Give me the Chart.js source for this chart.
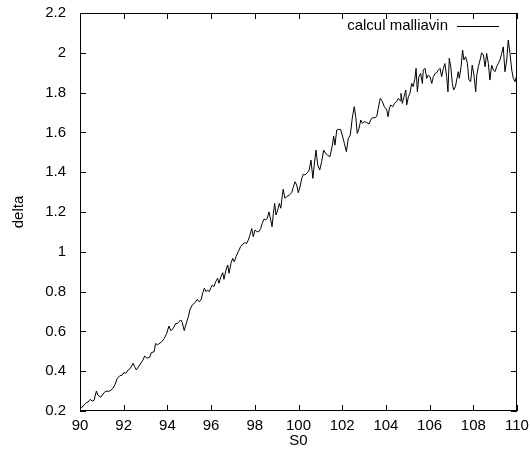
<!DOCTYPE html>
<html>
<head>
<meta charset="utf-8">
<script src="https://cdn.jsdelivr.net/npm/chart.js@4.4.1/dist/chart.umd.min.js"></script>
<style>
    html, body { margin: 0; padding: 0; background: #fff; }
    #wrap { width: 530px; height: 459px; }
</style>
</head>
<body>
<div id="wrap"><canvas id="deltaChart"></canvas></div>
<script>
// S0 values
const s0Values = [
    90.06, 90.18, 90.29, 90.37, 90.47, 90.55, 90.64, 90.75, 90.82, 90.95,
    91.05, 91.16, 91.36, 91.51, 91.59, 91.71, 91.82, 91.94,
    92.01, 92.09, 92.20, 92.30, 92.43, 92.50, 92.58, 92.73, 92.88, 92.96,
    93.07, 93.19, 93.26, 93.39, 93.46, 93.54,
    93.74, 93.86, 93.97, 94.07, 94.16, 94.27, 94.38, 94.47, 94.53, 94.62,
    94.68, 94.77, 94.84, 94.96, 95.03, 95.14, 95.26, 95.37, 95.45, 95.54,
    95.62, 95.69, 95.77, 95.84, 95.92, 96.00, 96.05, 96.13, 96.21, 96.30,
    96.36, 96.45, 96.53, 96.59, 96.68, 96.76, 96.82, 96.91, 96.99, 97.06,
    97.14, 97.24, 97.35, 97.45, 97.55, 97.63, 97.70, 97.78, 97.86, 97.93,
    98.01, 98.09, 98.18, 98.27, 98.34, 98.42, 98.50, 98.57, 98.65, 98.73,
    98.79, 98.85, 98.91, 98.97, 99.05, 99.12, 99.19, 99.26, 99.30, 99.38,
    99.46, 99.58, 99.69, 99.76, 99.84, 99.92, 99.99, 100.07, 100.15, 100.22,
    100.30, 100.40, 100.49,
    100.57, 100.66, 100.72, 100.80, 100.88, 100.97, 101.06, 101.15, 101.24, 101.33,
    101.44, 101.55, 101.61, 101.67, 101.75, 101.82, 101.93, 102.00, 102.10, 102.19,
    102.28, 102.37, 102.46, 102.55, 102.62, 102.69, 102.77, 102.85, 102.92, 103.01,
    103.12, 103.23, 103.30, 103.38, 103.50, 103.58, 103.65, 103.74, 103.84, 103.93,
    104.04, 104.10, 104.16, 104.22, 104.31, 104.40, 104.49, 104.57, 104.65, 104.69,
    104.75, 104.83, 104.91, 104.95, 105.03, 105.10, 105.18, 105.25, 105.33, 105.38,
    105.44, 105.51, 105.59, 105.67, 105.71, 105.79, 105.87, 105.94, 106.02, 106.10,
    106.17, 106.25, 106.33, 106.40, 106.48, 106.55, 106.63, 106.70, 106.78, 106.84,
    106.90, 106.97,
    107.04, 107.10, 107.18, 107.24, 107.31, 107.36, 107.44, 107.51, 107.57, 107.65,
    107.73, 107.80, 107.88, 107.95, 108.03, 108.11, 108.16, 108.23, 108.31, 108.38,
    108.46, 108.54, 108.61, 108.69, 108.76, 108.84, 108.92, 108.99, 109.07, 109.14,
    109.22, 109.30, 109.37, 109.45, 109.53, 109.60, 109.68, 109.76, 109.83, 109.91,
    109.99
];

// delta estimates (malliavin)
const deltaValues = [
    0.214, 0.23, 0.242, 0.245, 0.259, 0.25, 0.252, 0.30, 0.28, 0.269,
    0.285, 0.299, 0.30, 0.314, 0.33, 0.364, 0.377, 0.381,
    0.394, 0.389, 0.406, 0.414, 0.44, 0.423, 0.406, 0.431, 0.456, 0.476,
    0.465, 0.47, 0.493, 0.498, 0.54, 0.532,
    0.548, 0.565, 0.59, 0.627, 0.604, 0.615, 0.64, 0.64, 0.649, 0.657,
    0.644, 0.604, 0.632, 0.674, 0.708, 0.733, 0.744, 0.761, 0.749, 0.758,
    0.794, 0.817, 0.80, 0.808, 0.80, 0.821, 0.833, 0.825, 0.85, 0.867,
    0.842, 0.875, 0.895, 0.862, 0.908, 0.934, 0.892, 0.942, 0.967, 0.95,
    0.975, 1.0, 1.026, 1.039, 1.046, 1.042, 1.059, 1.084, 1.117, 1.076,
    1.11, 1.101, 1.101, 1.117, 1.143, 1.164, 1.16, 1.168, 1.2, 1.16,
    1.126, 1.193, 1.243, 1.185, 1.21, 1.243, 1.219, 1.285, 1.314, 1.269,
    1.277, 1.285, 1.297, 1.324, 1.352, 1.335, 1.297, 1.327, 1.369, 1.39,
    1.386, 1.397, 1.411,
    1.461, 1.369, 1.436, 1.511, 1.436, 1.411, 1.453, 1.511, 1.494, 1.486,
    1.478, 1.536, 1.581, 1.536, 1.612, 1.615, 1.615, 1.587, 1.545, 1.503,
    1.57, 1.587, 1.671, 1.729, 1.679, 1.595, 1.62, 1.662, 1.646, 1.654,
    1.65, 1.642, 1.662, 1.674, 1.674, 1.68, 1.721, 1.771, 1.755, 1.729,
    1.713, 1.679, 1.721, 1.738, 1.729, 1.746, 1.755, 1.771, 1.759, 1.796,
    1.746, 1.779, 1.813, 1.738, 1.779, 1.796, 1.846, 1.83, 1.872, 1.922,
    1.804, 1.88, 1.896, 1.846, 1.913, 1.922, 1.872, 1.888, 1.88, 1.846,
    1.88, 1.896, 1.90, 1.913, 1.922, 1.88, 1.922, 1.946, 1.88, 1.804,
    1.972, 1.93,
    1.846, 1.813, 1.83, 1.863, 1.905, 1.872, 1.93, 2.014, 1.964, 1.98,
    1.946, 1.863, 1.855, 1.938, 1.888, 1.804, 1.888, 1.93, 1.964, 2.0,
    1.989, 1.93, 1.997, 1.946, 1.863, 1.938, 1.913, 1.905, 1.93, 1.946,
    1.964, 1.997, 2.03, 1.905, 1.964, 2.064, 1.997, 1.913, 1.872, 1.855,
    1.888
];

const seriesLabel = "calcul malliavin";
const xTitle = "S0";
const yTitle = "delta";
const xRange = [90, 110];
const xStep = 2;
const yRange = [0.2, 2.2];
const yStep = 0.2;

const fontFamily = "'Liberation Sans', Arial, sans-serif";
const fontSize = 15;

Chart.defaults.font.family = fontFamily;
Chart.defaults.font.size = fontSize;
Chart.defaults.color = "#000";

// gnuplot-like frame: box, inward ticks on all sides, key at top right
const gnuplotFrame = {
    id: "gnuplotFrame",
    afterDraw(chart) {
        const ctx = chart.ctx;
        const area = chart.chartArea;
        const xs = chart.scales.x;
        const ys = chart.scales.y;
        const tick = 6;
        const l = Math.round(area.left);
        const r = Math.round(area.right);
        const t = Math.round(area.top);
        const b = Math.round(area.bottom);

        ctx.save();
        ctx.fillStyle = "#000";

        // box
        ctx.fillRect(l, t, r - l, 1);
        ctx.fillRect(l, b - 1, r - l, 1);
        ctx.fillRect(l, t, 1, b - t);
        ctx.fillRect(r - 1, t, 1, b - t);

        // ticks
        xs.ticks.forEach(tk => {
            const px = Math.round(xs.getPixelForValue(tk.value));
            ctx.fillRect(px, b - tick, 1, tick);
            ctx.fillRect(px, t, 1, tick);
        });

        ys.ticks.forEach(tk => {
            const py = Math.round(ys.getPixelForValue(tk.value));
            ctx.fillRect(l, py, tick, 1);
            ctx.fillRect(r - tick, py, tick, 1);
        });

        // key
        const ds = chart.data.datasets[0];
        const keyY = t + 13;
        ctx.font = fontSize + "px " + fontFamily;
        ctx.textAlign = "right";
        ctx.textBaseline = "middle";
        ctx.fillText(ds.label, r - 69, keyY);
        ctx.fillRect(r - 60, keyY, 42, 1);

        ctx.restore();
    }
};

const points = s0Values.map((s, i) => ({ x: s, y: deltaValues[i] }));

new Chart(document.getElementById("deltaChart"), {
    type: "line",
    data: {
        datasets: [
            {
                label: seriesLabel,
                data: points,
                borderColor: "#000",
                borderWidth: 1,
                pointRadius: 0,
                tension: 0,
                fill: false
            }
        ]
    },
    options: {
        responsive: true,
        maintainAspectRatio: false,
        animation: false,
        layout: {
            padding: { top: 13, right: 13, left: 0, bottom: 0 }
        },
        plugins: {
            legend: { display: false },
            tooltip: { enabled: false }
        },
        scales: {
            x: {
                type: "linear",
                min: xRange[0],
                max: xRange[1],
                grid: { display: false, drawTicks: false },
                border: { display: false },
                ticks: {
                    stepSize: xStep,
                    padding: 6,
                    maxRotation: 0,
                    callback: v => String(v)
                },
                title: {
                    display: true,
                    text: xTitle,
                    padding: { top: 0, bottom: 9 }
                },
                afterFit(scale) {
                    scale.height = 48;
                    scale.paddingLeft = 0;
                    scale.paddingRight = 0;
                }
            },
            y: {
                type: "linear",
                min: yRange[0],
                max: yRange[1],
                grid: { display: false, drawTicks: false },
                border: { display: false },
                ticks: {
                    stepSize: yStep,
                    padding: 14,
                    callback: v => String(Number(v.toFixed(1)))
                },
                title: {
                    display: true,
                    text: yTitle,
                    padding: { top: 9.5, bottom: 0 }
                },
                afterFit(scale) {
                    scale.width = 80;
                    scale.paddingTop = 0;
                    scale.paddingBottom = 0;
                }
            }
        }
    },
    plugins: [gnuplotFrame]
});
</script>
</body>
</html>
